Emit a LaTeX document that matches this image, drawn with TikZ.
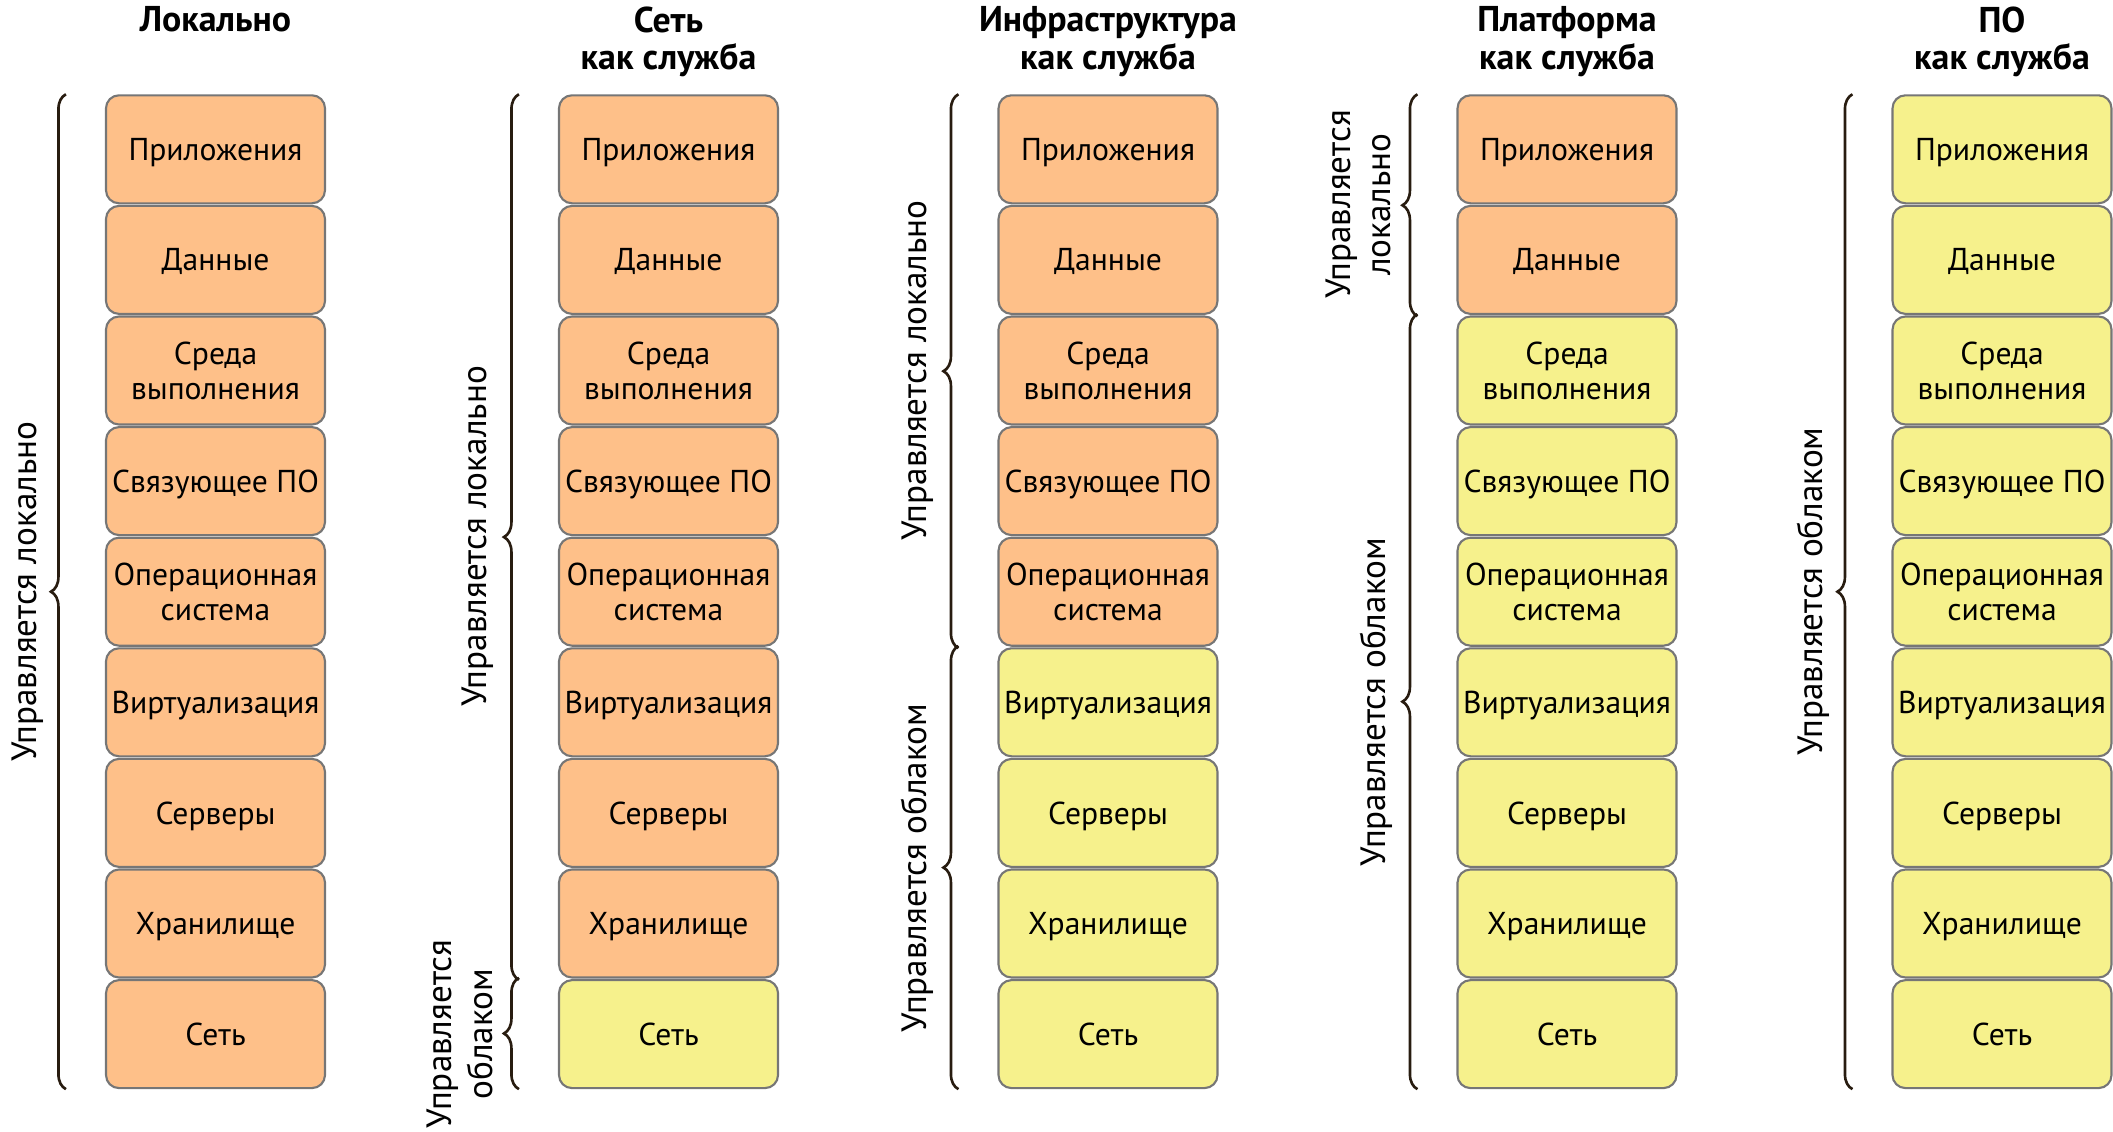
\documentclass[tikz,border=0pt]{standalone}
\usepackage{fontspec}
\setmainfont{PT Sans}
\usepackage{xcolor}
\usepackage{tikz}
\usetikzlibrary{calc,decorations.pathreplacing}

\definecolor{locfill}{RGB}{254,192,137}
\definecolor{cldfill}{RGB}{246,241,140}
\definecolor{edgegray}{RGB}{118,118,118}
\definecolor{bracecol}{RGB}{40,28,16}

\begin{document}
\begin{tikzpicture}
\tikzset{el/.style={draw=edgegray, line width=0.6pt, rectangle, rounded corners=1.3mm, minimum width=2.19cm, minimum height=1.08cm, align=center, inner sep=1pt, text depth=0pt, font=\fontsize{9}{10}\selectfont},
loc/.style={el, fill=locfill},
cld/.style={el, fill=cldfill},
hd/.style={anchor=north, align=center, inner sep=0pt, font=\fontsize{10.2}{10.7}\selectfont\bfseries},
br/.style={decorate, decoration={brace, amplitude=1.5mm}, draw=bracecol, line width=0.75pt},
lbl/.style={rotate=90, align=center, font=\fontsize{10}{11.5}\selectfont}}

\useasboundingbox (0,0) rectangle (21.13,-11.31);

% Headers
\node[hd] (h1) at (2.155,-0.06) {Локально};
\node[hd] (h2) at (6.685,-0.06) {Сеть\\как служба};
\node[hd] (h3) at (11.08,-0.06) {Инфраструктура\\как служба};
\node[hd] (h4) at (15.67,-0.06) {Платформа\\как служба};
\node[hd] (h5) at (20.02,-0.06) {ПО\\как служба};

% Locally
\node[loc] (app1) at (2.155,-1.493) {Приложения};
\node[loc] (data1) at (2.155,-2.599) {Данные};
\node[loc] (rt1) at (2.155,-3.705) {Среда\\выполнения};
\node[loc] (mw1) at (2.155,-4.811) {Связующее ПО};
\node[loc] (os1) at (2.155,-5.917) {Операционная\\система};
\node[loc] (virt1) at (2.155,-7.023) {Виртуализация};
\node[loc] (srv1) at (2.155,-8.129) {Серверы};
\node[loc] (stor1) at (2.155,-9.235) {Хранилище};
\node[loc] (net1) at (2.155,-10.341) {Сеть};

% Network as a service
\node[loc] (app2) at (6.685,-1.493) {Приложения};
\node[loc] (data2) at (6.685,-2.599) {Данные};
\node[loc] (rt2) at (6.685,-3.705) {Среда\\выполнения};
\node[loc] (mw2) at (6.685,-4.811) {Связующее ПО};
\node[loc] (os2) at (6.685,-5.917) {Операционная\\система};
\node[loc] (virt2) at (6.685,-7.023) {Виртуализация};
\node[loc] (srv2) at (6.685,-8.129) {Серверы};
\node[loc] (stor2) at (6.685,-9.235) {Хранилище};
\node[cld] (net2) at (6.685,-10.341) {Сеть};

% Infrastructure as a service
\node[loc] (app3) at (11.08,-1.493) {Приложения};
\node[loc] (data3) at (11.08,-2.599) {Данные};
\node[loc] (rt3) at (11.08,-3.705) {Среда\\выполнения};
\node[loc] (mw3) at (11.08,-4.811) {Связующее ПО};
\node[loc] (os3) at (11.08,-5.917) {Операционная\\система};
\node[cld] (virt3) at (11.08,-7.023) {Виртуализация};
\node[cld] (srv3) at (11.08,-8.129) {Серверы};
\node[cld] (stor3) at (11.08,-9.235) {Хранилище};
\node[cld] (net3) at (11.08,-10.341) {Сеть};

% Platform as a service
\node[loc] (app4) at (15.67,-1.493) {Приложения};
\node[loc] (data4) at (15.67,-2.599) {Данные};
\node[cld] (rt4) at (15.67,-3.705) {Среда\\выполнения};
\node[cld] (mw4) at (15.67,-4.811) {Связующее ПО};
\node[cld] (os4) at (15.67,-5.917) {Операционная\\система};
\node[cld] (virt4) at (15.67,-7.023) {Виртуализация};
\node[cld] (srv4) at (15.67,-8.129) {Серверы};
\node[cld] (stor4) at (15.67,-9.235) {Хранилище};
\node[cld] (net4) at (15.67,-10.341) {Сеть};

% Software as a service
\node[cld] (app5) at (20.02,-1.493) {Приложения};
\node[cld] (data5) at (20.02,-2.599) {Данные};
\node[cld] (rt5) at (20.02,-3.705) {Среда\\выполнения};
\node[cld] (mw5) at (20.02,-4.811) {Связующее ПО};
\node[cld] (os5) at (20.02,-5.917) {Операционная\\система};
\node[cld] (virt5) at (20.02,-7.023) {Виртуализация};
\node[cld] (srv5) at (20.02,-8.129) {Серверы};
\node[cld] (stor5) at (20.02,-9.235) {Хранилище};
\node[cld] (net5) at (20.02,-10.341) {Сеть};

% Braces
\draw[br] ($(net1.south west)+(-0.39,0)$) -- ($(app1.north west)+(-0.39,0)$);
\draw[br] ($(stor2.south west)+(-0.39,-0.013)$) -- ($(app2.north west)+(-0.39,0)$);
\draw[br] ($(net2.south west)+(-0.39,0)$) -- ($(net2.north west)+(-0.39,0.013)$);
\draw[br] ($(os3.south west)+(-0.39,-0.013)$) -- ($(app3.north west)+(-0.39,0)$);
\draw[br] ($(net3.south west)+(-0.39,0)$) -- ($(virt3.north west)+(-0.39,0.013)$);
\draw[br] ($(data4.south west)+(-0.39,-0.013)$) -- ($(app4.north west)+(-0.39,0)$);
\draw[br] ($(net4.south west)+(-0.39,0)$) -- ($(rt4.north west)+(-0.39,0.013)$);
\draw[br] ($(net5.south west)+(-0.39,0)$) -- ($(app5.north west)+(-0.39,0)$);

% Brace labels
\node[lbl] (l1) at ($(app1.north west)!0.5!(net1.south west)+(-0.77,0)$) {Управляется локально};
\node[lbl] (l2) at ($(app2.north west)!0.5!(stor2.south west)+(-0.8,0)$) {Управляется локально};
\node[lbl] (c2) at ($(net2.west)+(-0.98,0)$) {Управляется\\облаком};
\node[lbl] (l3) at ($(app3.north west)!0.5!(os3.south west)+(-0.8,0)$) {Управляется локально};
\node[lbl] (c3) at ($(virt3.north west)!0.5!(net3.south west)+(-0.8,0)$) {Управляется облаком};
\node[lbl] (l4) at ($(app4.north west)!0.5!(data4.south west)+(-0.98,0)$) {Управляется\\локально};
\node[lbl] (c4) at ($(rt4.north west)!0.5!(net4.south west)+(-0.8,0)$) {Управляется облаком};
\node[lbl] (c5) at ($(app5.north west)!0.5!(net5.south west)+(-0.78,0)$) {Управляется облаком};

\end{tikzpicture}
\end{document}
